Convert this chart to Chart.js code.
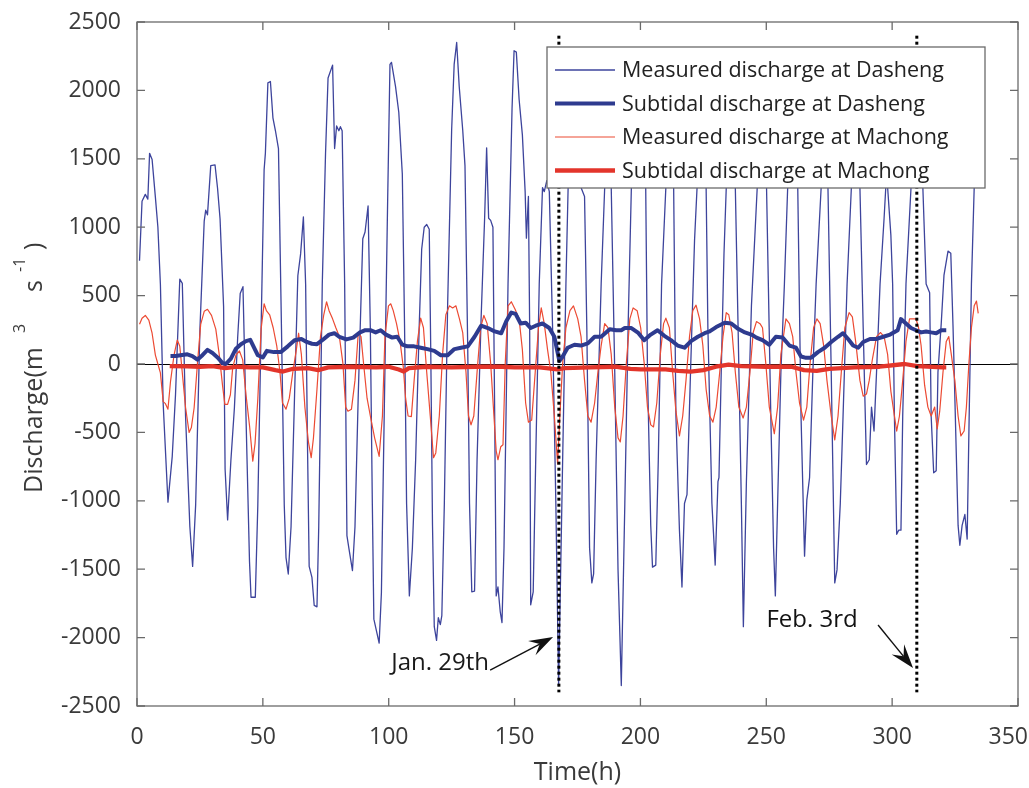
<!DOCTYPE html>
<html>
<head>
<meta charset="utf-8">
<script src="https://cdn.jsdelivr.net/npm/chart.js@4.4.1/dist/chart.umd.min.js"></script>
<style>
  html, body { margin: 0; padding: 0; background: #fff; }
  canvas { display: block; }
</style>
</head>
<body>
<canvas id="dischargeChart" width="1029" height="788"></canvas>
<script>
// ---- data (hour, discharge m3/s) ----
const dashengHours = [1, 2, 3.3, 4.3, 5, 6, 7.3, 8.3, 9.3, 10.4, 12.3, 14, 15.3, 17, 18, 19.3, 21, 22.1, 23.3, 25,
  26.7, 27.3, 28, 29.3, 31, 32, 33, 34.4, 35, 36, 37.3, 38.7, 40, 41, 42.1, 43.3, 44.7, 45.3, 47, 48,
  49.3, 50.5, 51, 52, 53, 54, 55, 56.2, 57.4, 58.5, 59.2, 60.1, 61.2, 62.6, 63.9, 65, 66.1, 67, 67.7, 68.4,
  69.5, 70.4, 71.5, 72.2, 73.6, 74.9, 75.9, 77.7, 78.5, 79.3, 80.2, 80.8, 81.5, 82.5, 83.4, 84.2, 85.6, 86.6, 87.9, 89.7,
  90.6, 91.8, 92.7, 93.5, 94.1, 96.2, 97.1, 98.2, 99.6, 100.5, 101.1, 102.7, 104, 105.4, 106.3, 107.1, 108.2, 109.4, 110.7, 112.1,
  113.1, 114.1, 115.1, 116.1, 116.7, 117.4, 118.1, 119, 119.7, 120.5, 121.1, 122.1, 123.4, 125, 126, 127, 128, 129.4, 130.3, 131.4,
  132.1, 133, 134.1, 135.1, 136.7, 138.1, 138.9, 139.7, 140.5, 141.4, 142.1, 142.7, 143.4, 144.3, 145, 145.8, 147.4, 149, 149.8, 150.7,
  151.8, 153.1, 154.2, 154.7, 155.5, 156, 156.4, 157.4, 158.4, 159.8, 161.1, 161.8, 162.8, 163.8, 165.1, 166.4, 167.5, 169.1, 170.4, 171.8,
  173.5, 175, 176.4, 177.8, 178.7, 179.8, 180.7, 181.4, 182.4, 184.4, 185.8, 187, 188.4, 189.8, 191.1, 192.4, 193.8, 195.1, 196.4, 199,
  202.1, 202.8, 204.1, 204.8, 206.1, 207.1, 208.4, 210.1, 211.8, 213.2, 214.1, 215.5, 216.5, 217.5, 218.5, 219.9, 221.5, 222.5, 224.3, 226.1,
  226.8, 228.4, 229.7, 230.8, 231.2, 232.1, 233.2, 234.1, 236, 237.7, 238.8, 240.1, 240.9, 242.1, 244.1, 246.4, 248.3, 250.1, 251.8, 252.9,
  253.6, 254.5, 255.8, 257.2, 258.5, 260.5, 262.5, 263.8, 265.2, 266.1, 267.2, 268.5, 269.8, 271.8, 273.2, 274.5, 275.8, 277.2, 278.1, 279.4,
  280.5, 282.1, 283.8, 285.5, 287.2, 288.5, 289.8, 290.9, 291.8, 292.8, 293.8, 295.2, 296.8, 297.8, 299.5, 300.2, 300.9, 301.8, 302.6, 303.5,
  304.2, 305.5, 307.5, 310, 312.2, 313.5, 314.9, 315.5, 316.5, 317.5, 318.2, 319.5, 320.6, 322.2, 323.3, 324.2, 325.1, 326.2, 326.9, 327.8,
  328.9, 329.8, 330.6, 331.5, 332.6, 333.3];
const dashengFlow = [755, 1190, 1240, 1205, 1540, 1495, 1220, 1000, 580, -290, -1010, -675, -225, 620, 590, -385, -1190, -1480, -1030, 255,
  1045, 1125, 1090, 1450, 1455, 1285, 1060, 420, -770, -1140, -705, -320, 195, 515, 565, -385, -1445, -1705, -1705, -1030,
  255, 1420, 1540, 2055, 2065, 1800, 1705, 1575, 255, -1030, -1415, -1535, -1190, -225, 645, 805, 1075, 580, -545, -1480,
  -1560, -1765, -1775, -1190, 580, 1540, 2090, 2185, 1575, 1740, 1705, 1735, 1705, 580, -1255, -1350, -1510, -1190, -225, 915,
  965, 1155, 255, -1030, -1865, -2040, -1670, -385, 1220, 2190, 2205, 2030, 1840, 1390, 265, -1020, -1695, -1345, -700, 265,
  840, 1000, 1020, 985, 105, -1180, -1920, -2020, -1855, -1905, -1840, -1020, 425, 1710, 2190, 2350, 2030, 1710, 1450, 105,
  -1020, -1665, -1660, -700, 330, 1065, 1580, 1065, 1050, 1000, -380, -1695, -1630, -1810, -1890, -1345, 585, 1870, 2290, 2280,
  1935, 1675, 1260, 920, 1225, 265, -1760, -1665, -700, 585, 1290, 1260, 1340, 1260, 265, -1020, -2350, -700, 585, 1710,
  2150, 2100, 1290, 1225, 265, -1345, -1600, -1535, -700, 585, 1290, 2000, 1290, -60, -1505, -2350, -1020, 265, 1290, 2100,
  1290, -60, -1180, -1485, -1470, -700, 585, 1290, 2000, 1290, -380, -1215, -1630, -1020, -955, -60, 905, 1290, 1900, 1290,
  265, -1020, -1470, -860, -830, -60, 810, 1290, 2000, 1290, 265, -1020, -1920, -860, 425, 1290, 2000, 1290, -380, -1345,
  -1695, -1020, -60, 585, 1290, 1900, 1290, -380, -1405, -995, -830, -60, 585, 1290, 1800, 1290, -60, -1600, -1505, -1020,
  -380, 585, 1290, 1800, 1290, 265, -735, -700, -315, -490, -60, 585, 1065, 1400, 940, 585, -380, -1245, -1215, -1215,
  -380, 585, 1290, 1900, 1290, 585, 520, -380, -795, -780, -60, 295, 650, 825, 810, 265, -380, -1180, -1325, -1180,
  -1100, -1280, -380, 585, 1290, 1450];

const machongHours = [1, 2, 3.3, 4.7, 6, 7.3, 8.3, 9.3, 10.4, 11.3, 12.3, 13.3, 14.7, 16, 17, 18, 19.3, 20.7, 21.6, 22.7,
  24, 25.3, 26.7, 28, 29.6, 31.3, 32.7, 34, 34.9, 36, 37.1, 38, 39.3, 40.7, 42, 43.3, 44.7, 46, 46.9, 48,
  49.3, 50.5, 51.4, 52.7, 54.1, 55.5, 56.8, 57.8, 59.2, 60.5, 61.9, 63.3, 64.2, 65.3, 66.7, 68.1, 69.2, 70.1, 71.5, 72.9,
  74.2, 75.3, 76.3, 77.7, 79, 80.4, 81.8, 82.9, 83.8, 85.2, 86.6, 87.9, 89, 90, 91.4, 92.7, 94.4, 96.2, 97.5, 98.5,
  99.9, 100.8, 101.8, 103.1, 104.5, 105.8, 106.7, 107.7, 109, 110.1, 111.4, 112.7, 113.8, 115.1, 116.5, 117.8, 118.7, 120.1, 121.4, 122.7,
  124.1, 125.4, 126.7, 128.1, 129.4, 130.7, 131.7, 132.7, 133.8, 135.1, 136.5, 137.8, 139.1, 140.5, 141.8, 142.7, 143.4, 144.5, 145.4, 146.3,
  147.4, 148.7, 150.2, 151.8, 153.1, 154.4, 155.5, 156.8, 158.2, 159.5, 160.6, 161.8, 163.1, 164.4, 165.8, 167.1, 168, 169.1, 170.4, 172,
  173.4, 175.1, 176.4, 177.8, 179.1, 180.4, 181.8, 183.1, 184.4, 185.8, 187.1, 188.4, 189.8, 191.1, 192, 193.1, 194.4, 195.8, 197.1, 198.7,
  200.1, 201.5, 202.8, 204.1, 205.2, 206.5, 207.9, 209.2, 210.1, 211.5, 212.8, 214.1, 215.5, 216.8, 218.1, 219.5, 220.8, 222.1, 223.5, 224.8,
  226.1, 227.5, 228.8, 230.1, 231.5, 232.8, 234.1, 235.1, 236.4, 237.7, 239.1, 240.8, 242.1, 243.5, 244.8, 246.1, 247.5, 248.5, 249.8, 251.2,
  253.2, 254.5, 255.8, 257.8, 259.2, 260.5, 261.8, 263.2, 264.8, 266.1, 267.4, 268.8, 270.1, 271.4, 272.8, 274.1, 275.8, 277.2, 278.5, 279.8,
  281.2, 282.9, 284.2, 285.5, 287.2, 288.5, 289.8, 290.9, 292.2, 293.8, 295.4, 296.8, 298.2, 299.5, 300.9, 301.8, 302.9, 304.2, 305.5, 306.9,
  308.2, 309.5, 310.5, 311.5, 312.9, 314.2, 315.5, 316.9, 317.9, 318.9, 320.2, 321.5, 322.5, 323.5, 324.9, 326.2, 327.3, 328.6, 329.5, 330.5,
  331.5, 332.6, 333.5, 334.2];
const machongFlow = [290, 335, 355, 320, 225, 65, 0, -65, -275, -290, -330, -130, 65, 175, 130, -65, -320, -500, -465, -320,
  0, 290, 385, 400, 355, 255, 65, -160, -295, -295, -225, -30, 65, 95, 30, -225, -450, -710, -580, -255,
  255, 440, 390, 360, 265, 135, -60, -285, -330, -250, -60, 105, 225, 70, -315, -570, -685, -540, -185, 200,
  360, 455, 390, 330, 265, 200, 5, -315, -345, -330, -120, 225, 200, 5, -250, -380, -540, -675, -380, 200,
  425, 440, 390, 295, 165, -25, -250, -380, -385, -120, 165, 335, 265, -60, -380, -685, -650, -380, 70, 360,
  425, 410, 425, 330, 230, -60, -380, -445, -380, -60, 265, 355, 295, 5, -380, -635, -700, -605, -590, 5,
  425, 455, 400, 330, 105, -285, -425, -410, -60, 265, 410, 295, 105, -60, -380, -730, -380, 5, 265, 390,
  425, 330, 200, -120, -380, -425, -285, -60, 135, 295, 265, 70, -315, -540, -570, -380, 5, 330, 410, 390,
  265, 5, -315, -445, -460, -285, 70, 295, 335, 265, -60, -345, -525, -380, -120, 200, 390, 430, 330, 135,
  -185, -380, -425, -315, -60, 200, 375, 360, 230, -60, -315, -395, -315, -60, 230, 310, 295, 265, 5, -315,
  -510, -315, 70, 330, 295, 200, -60, -285, -410, -315, 5, 265, 330, 295, 135, -120, -380, -555, -380, -60,
  265, 375, 345, 165, -120, -235, -220, -120, 40, 200, 230, 200, 70, -200, -380, -490, -380, -120, 165, 330,
  330, 330, 265, 135, -155, -315, -380, -315, -475, -345, -60, 165, 200, 70, -120, -380, -525, -490, -315, 5,
  265, 425, 460, 370];

const subDashengHours = [13.3, 15.3, 17.3, 20, 22, 24, 26, 28, 30, 32, 34, 35.3, 37.3, 39.3, 41.3, 43.3, 45, 46.7, 48, 50,
  51.6, 54.4, 57.1, 59.9, 62.6, 65.3, 67.4, 69.5, 71.5, 73.6, 76.3, 78.4, 80.4, 83.2, 85.9, 88.6, 90.7, 92.7, 94.8, 96.8,
  98.9, 101.4, 103.4, 105.4, 107.4, 110.1, 112.7, 115.4, 118.1, 120.7, 123.4, 126.1, 128.7, 131.4, 134.1, 136.7, 139.4, 142.1, 144.7, 146.7,
  148.7, 150.4, 152.4, 154.4, 156.4, 158.4, 161.1, 163.8, 165.8, 167.8, 169.1, 171.1, 173.8, 176.4, 179.1, 181.8, 184.4, 187.8, 190.4, 192.4,
  193.8, 196.4, 199, 201.5, 204.1, 206.8, 209.5, 212.1, 214.8, 217.5, 220.1, 222.8, 225.5, 227.5, 230.1, 233.5, 236.1, 238.8, 241.5, 244.1,
  246.1, 248.5, 251.2, 253.8, 256.5, 259.2, 261.8, 263.8, 265.8, 267.8, 270.5, 273.2, 275.8, 278.5, 280.5, 282.5, 284.5, 286.5, 288.5, 291.2,
  293.8, 296.5, 299.2, 302.2, 303.5, 305.5, 307.5, 309.5, 311.5, 313.5, 315.5, 317.5, 319.5, 321.5];
const subDashengFlow = [58, 58, 64, 71, 58, 32, 64, 103, 80, 48, 6, 0, 39, 112, 145, 167, 177, 112, 64, 48,
  96, 87, 87, 129, 174, 183, 161, 148, 145, 174, 215, 225, 199, 180, 193, 231, 247, 247, 231, 247,
  215, 193, 199, 141, 129, 129, 119, 109, 96, 64, 64, 109, 119, 129, 199, 280, 263, 238, 225, 312,
  376, 366, 296, 302, 263, 280, 296, 263, 199, 22, 55, 119, 141, 135, 151, 199, 199, 254, 247, 247,
  263, 263, 230, 174, 215, 247, 206, 174, 135, 119, 167, 199, 225, 238, 270, 302, 296, 257, 231, 215,
  193, 174, 141, 199, 193, 135, 119, 55, 45, 45, 87, 119, 161, 199, 225, 183, 135, 119, 161, 183,
  183, 199, 215, 247, 328, 296, 263, 247, 231, 238, 231, 225, 247, 247];

const subMachongHours = [13, 20, 25, 30, 35, 40, 45, 50, 55, 58, 62, 68, 72, 76, 85, 95, 100, 104, 106, 108,
  115, 125, 135, 145, 150, 160, 167, 170, 180, 190, 196, 200, 210, 215, 220, 225, 230, 235, 240, 250,
  260, 265, 270, 275, 285, 295, 305, 310, 320, 321.5];
const subMachongFlow = [-15, -18, -20, -15, -30, -20, -25, -25, -45, -55, -35, -30, -45, -25, -20, -25, -20, -40, -55, -30,
  -20, -25, -20, -20, -25, -25, -40, -30, -25, -20, -35, -40, -40, -50, -55, -45, -20, -5, -15, -20,
  -20, -45, -50, -35, -25, -20, 0, -15, -25, -25];

const xTicks = [0, 50, 100, 150, 200, 250, 300, 350];
const yTicks = [-2500, -2000, -1500, -1000, -500, 0, 500, 1000, 1500, 2000, 2500];
const seriesNames = ['Measured discharge at Dasheng', 'Subtidal discharge at Dasheng',
  'Measured discharge at Machong', 'Subtidal discharge at Machong'];
const seriesColors = ['#3d449c', '#2e3b8f', '#ec4a33', '#e3352b'];
const seriesWidths = [1.3, 4, 1.2, 4.3];

// marker lines and notes, in axis units
const markerHours = [167.6, 309.8];
const markerRange = [-2400, 2400];
const notes = [
  { text: 'Jan. 29th', at: [120.4, -2186], tail: [140.3, -2237], head: [165.3, -1996] },
  { text: 'Feb. 3rd', at: [268.2, -1871], tail: [294.4, -1908], head: [308.3, -2222] }
];

const FONT = '"Open Sans", "Noto Sans", sans-serif';
const TEXT = '#3a3a3a';
const pairs = (hs, vs) => hs.map((h, i) => ({ x: h, y: vs[i] }));

function drawArrow(ctx, x0, y0, x1, y1) {
  const ang = Math.atan2(y1 - y0, x1 - x0);
  const L = 24, W = 8, N = 15;
  ctx.beginPath();
  ctx.moveTo(x0, y0);
  ctx.lineTo(x1 - Math.cos(ang) * N, y1 - Math.sin(ang) * N);
  ctx.strokeStyle = '#111';
  ctx.lineWidth = 1.4;
  ctx.stroke();
  const bx = x1 - Math.cos(ang) * L, by = y1 - Math.sin(ang) * L;
  const nx = -Math.sin(ang), ny = Math.cos(ang);
  ctx.beginPath();
  ctx.moveTo(x1, y1);
  ctx.lineTo(bx + nx * W, by + ny * W);
  ctx.lineTo(x1 - Math.cos(ang) * N, y1 - Math.sin(ang) * N);
  ctx.lineTo(bx - nx * W, by - ny * W);
  ctx.closePath();
  ctx.fillStyle = '#111';
  ctx.fill();
}

const figurePlugin = {
  id: 'figure',
  beforeDatasetsDraw(chart) {
    const { ctx, chartArea: a, scales: { y } } = chart;
    const y0 = Math.round(y.getPixelForValue(0)) + 0.5;
    ctx.save();
    ctx.strokeStyle = '#000';
    ctx.lineWidth = 1;
    ctx.beginPath();
    ctx.moveTo(a.left, y0);
    ctx.lineTo(a.right, y0);
    ctx.stroke();
    ctx.restore();
  },
  afterDatasetsDraw(chart) {
    const { ctx, chartArea: a, scales: { x, y } } = chart;
    ctx.save();
    // dotted marker lines
    ctx.strokeStyle = '#000';
    ctx.lineWidth = 3;
    ctx.setLineDash([3, 3]);
    markerHours.forEach(h => {
      const px = x.getPixelForValue(h);
      ctx.beginPath();
      ctx.moveTo(px, y.getPixelForValue(markerRange[1]));
      ctx.lineTo(px, y.getPixelForValue(markerRange[0]));
      ctx.stroke();
    });
    ctx.setLineDash([]);

    // frame with inward ticks
    ctx.strokeStyle = '#6a6a6a';
    ctx.lineWidth = 1.3;
    ctx.strokeRect(a.left, a.top, a.right - a.left, a.bottom - a.top);
    ctx.beginPath();
    const tl = 8;
    xTicks.forEach(v => {
      const px = x.getPixelForValue(v);
      ctx.moveTo(px, a.bottom); ctx.lineTo(px, a.bottom - tl);
      ctx.moveTo(px, a.top); ctx.lineTo(px, a.top + tl);
    });
    yTicks.forEach(v => {
      const py = y.getPixelForValue(v);
      ctx.moveTo(a.left, py); ctx.lineTo(a.left + tl, py);
      ctx.moveTo(a.right, py); ctx.lineTo(a.right - tl, py);
    });
    ctx.stroke();

    // x tick labels, the last one kept inside the canvas
    ctx.font = '23px ' + FONT;
    ctx.fillStyle = TEXT;
    ctx.textAlign = 'center';
    ctx.textBaseline = 'middle';
    xTicks.forEach(v => {
      const label = String(v);
      const w = ctx.measureText(label).width;
      const cx = Math.min(x.getPixelForValue(v), chart.width - w / 2 - 1);
      ctx.fillText(label, cx, a.bottom + 31);
    });

    // notes with arrows
    ctx.font = '24px ' + FONT;
    ctx.fillStyle = '#1a1a1a';
    notes.forEach(n => {
      ctx.fillText(n.text, x.getPixelForValue(n.at[0]), y.getPixelForValue(n.at[1]));
      drawArrow(ctx, x.getPixelForValue(n.tail[0]), y.getPixelForValue(n.tail[1]),
        x.getPixelForValue(n.head[0]), y.getPixelForValue(n.head[1]));
    });
    ctx.restore();
  },
  afterDraw(chart) {
    const { ctx } = chart;
    ctx.save();
    // legend box
    const bx = 547, by = 47, bw = 438, bh = 141;
    ctx.fillStyle = '#fff';
    ctx.fillRect(bx, by, bw, bh);
    ctx.strokeStyle = '#6a6a6a';
    ctx.lineWidth = 1.3;
    ctx.strokeRect(bx, by, bw, bh);
    ctx.font = '21.5px ' + FONT;
    ctx.textAlign = 'left';
    ctx.textBaseline = 'middle';
    seriesNames.forEach((name, i) => {
      const ry = by + 23 + i * 33.5;
      ctx.strokeStyle = seriesColors[i];
      ctx.lineWidth = seriesWidths[i];
      ctx.beginPath();
      ctx.moveTo(555, ry);
      ctx.lineTo(615, ry);
      ctx.stroke();
      ctx.fillStyle = '#222';
      ctx.fillText(name, 622, ry + 1);
    });

    // y axis title with superscripts
    ctx.translate(42, 493);
    ctx.rotate(-Math.PI / 2);
    ctx.textBaseline = 'alphabetic';
    ctx.fillStyle = TEXT;
    ctx.font = '25px ' + FONT;
    ctx.fillText('Discharge(m', 0, 0);
    ctx.fillText('s', 201, 0);
    ctx.fillText(')', 243, 0);
    ctx.font = '16px ' + FONT;
    ctx.fillText('3', 160, -17);
    ctx.fillText('-1', 221, -17);
    ctx.restore();
  }
};

const noPad = s => { s.paddingLeft = 0; s.paddingRight = 0; s.paddingTop = 0; s.paddingBottom = 0; };

const ctx = document.getElementById('dischargeChart').getContext('2d');
new Chart(ctx, {
  type: 'line',
  data: {
    datasets: [
      { label: seriesNames[3], data: pairs(subMachongHours, subMachongFlow), borderColor: seriesColors[3], borderWidth: seriesWidths[3], order: 0 },
      { label: seriesNames[1], data: pairs(subDashengHours, subDashengFlow), borderColor: seriesColors[1], borderWidth: seriesWidths[1], order: 1 },
      { label: seriesNames[2], data: pairs(machongHours, machongFlow), borderColor: seriesColors[2], borderWidth: seriesWidths[2], order: 2 },
      { label: seriesNames[0], data: pairs(dashengHours, dashengFlow), borderColor: seriesColors[0], borderWidth: seriesWidths[0], order: 3 }
    ]
  },
  options: {
    responsive: false,
    animation: false,
    parsing: false,
    elements: { point: { radius: 0 }, line: { tension: 0, borderJoinStyle: 'round' } },
    layout: { padding: { top: 22, right: 11, left: 0, bottom: 0 } },
    plugins: { legend: { display: false }, tooltip: { enabled: false } },
    scales: {
      x: {
        type: 'linear', min: 0, max: 350,
        afterBuildTicks: s => { s.ticks = xTicks.map(v => ({ value: v })); },
        afterFit: s => { s.height = 82; noPad(s); },
        grid: { display: false, drawTicks: false },
        border: { display: false },
        ticks: { display: false },
        title: { display: true, text: 'Time(h)', color: TEXT, font: { family: FONT, size: 25 }, padding: { top: 0, bottom: 0 } }
      },
      y: {
        type: 'linear', min: -2500, max: 2500,
        afterBuildTicks: s => { s.ticks = yTicks.map(v => ({ value: v })); },
        afterFit: s => { s.width = 137; noPad(s); },
        grid: { display: false, drawTicks: false },
        border: { display: false },
        ticks: { padding: 16, color: TEXT, font: { family: FONT, size: 23 }, callback: v => String(v) }
      }
    }
  },
  plugins: [figurePlugin]
});
</script>
</body>
</html>
